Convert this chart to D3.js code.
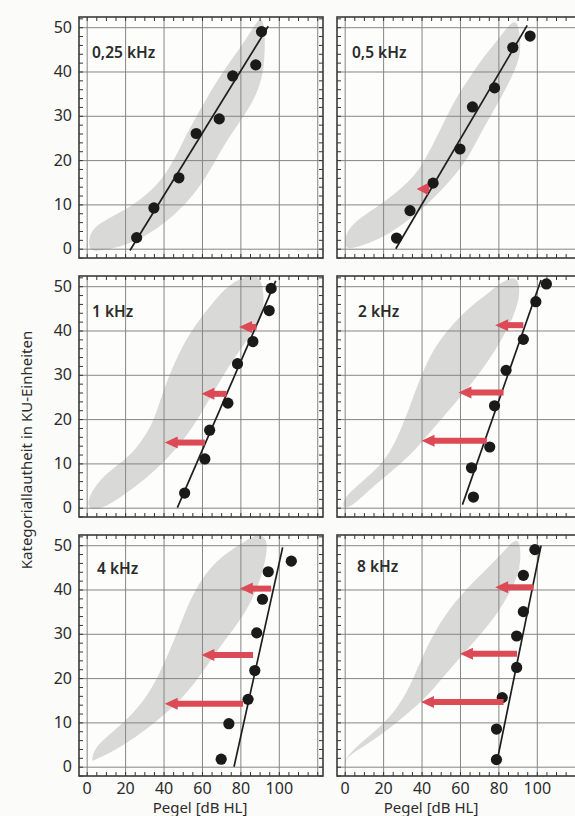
<!DOCTYPE html>
<html>
<head>
<meta charset="utf-8">
<script src="https://cdn.jsdelivr.net/npm/d3@7"></script>
<style>
  body { margin: 0; background: #fbfbfa; }
  text { font-family: "Noto Sans", "Open Sans", sans-serif; fill: #2b2b2b; }
</style>
</head>
<body>
<svg id="chart" width="575" height="816"></svg>
<script>
// panel titles (frequency)
const freqLabels = ["0,25 kHz", "0,5 kHz", "1 kHz", "2 kHz", "4 kHz", "8 kHz"];

// measured points: level [dB HL] and loudness [KU]
const level025 = [26, 35, 48, 57, 69, 76, 88, 91];
const ku025    = [2.5, 9.2, 16, 26, 29.3, 39, 41.5, 49];
const level05  = [27, 34, 46, 60, 66.5, 78, 87.5, 96.5];
const ku05     = [2.4, 8.6, 14.8, 22.5, 32, 36.3, 45.4, 48];
const level1k  = [51, 61.5, 64, 73.5, 78.5, 86.5, 95, 96];
const ku1k     = [3.3, 11, 17.5, 23.6, 32.5, 37.5, 44.5, 49.5];
const level2k  = [67, 66, 75.5, 78, 84, 93, 99.5, 105];
const ku2k     = [2.4, 9, 13.7, 23, 31, 38, 46.5, 50.5];
const level4k  = [70, 74, 84, 87.5, 88.5, 91.5, 94.5, 106.5];
const ku4k     = [1.7, 9.7, 15.2, 21.7, 30.2, 37.8, 44, 46.4];
const level8k  = [79, 79, 82, 89.5, 89.5, 93, 93, 99];
const ku8k     = [1.6, 8.5, 15.6, 22.4, 29.5, 35, 43.2, 49];

// fitted lines: [start, end] level and KU
const fitLevel = [[22.5, 94.5], [26.6, 95], [47.2, 98.4], [61.3, 102.2], [76.7, 102], [78.9, 102.2]];
const fitKu    = [[-0.4, 50.2], [0, 50.4], [0, 51.2], [0.7, 51.4], [0, 49.5], [0.4, 49.9]];

// red arrows: KU level, tail level, head level
const arrowKu   = [[], [13.5], [40.8, 25.7, 14.7], [41.2, 26, 15.1], [40.2, 25.2, 14.2], [40.5, 25.5, 14.6]];
const arrowFrom = [[], [44], [88.4, 72.8, 61.5], [93, 82.7, 74], [96, 86.6, 81.4], [98.3, 89.7, 82.7]];
const arrowTo   = [[], [37.5], [79.3, 59.7, 40.6], [78.3, 59.2, 40], [79.7, 59.7, 40.6], [78.3, 60, 39.7]];

// normal hearing range (grey band) outlines, [level, KU]
const band025 = [[1,-0.5],[1,4.3],[13,7.2],[25.5,10.1],[37.5,14.6],[44.3,19.1],[49.5,23.6],[54.7,28.1],[62,33.6],[68.8,38.7],[77.6,43.9],[86,49.3],[91,53],
                 [93,49],[92.5,41],[89.6,35.8],[82.8,30.4],[74,25.2],[67.2,20],[60,14.6],[51.6,10.1],[42.7,6.5],[30.7,2.7],[16.7,0.2],[5,-0.5]];
const band05  = [[0,0],[0,3.2],[6,6.5],[20,10.3],[30.5,14],[37.4,17],[42.7,20.8],[48,25.3],[53,29.8],[58.3,34.3],[65.3,38.8],[72.2,43.3],[81,47.8],[89.7,53],
                 [91.6,47],[91.4,42.6],[82.7,35],[75.7,29.8],[68.8,24.5],[61.8,18.5],[44.4,10.3],[27,4.3],[14.8,1.5],[4,0]];
const band1k  = [[0.6,-0.5],[0.6,2.2],[6.8,6.4],[15.5,9.4],[24,12.4],[29.3,15.5],[34.5,19.2],[38,23.8],[41.5,28.3],[46.7,33.6],[52,38.2],[59,42.7],[67.5,47.3],[76,51.1],[90,53.5],
                 [92.5,48],[91.8,42.7],[76.2,33.6],[65.8,26],[52,15.5],[32.8,7.1],[20.7,3.3],[8.5,-0.3]];
const band2k  = [[-1,-0.3],[-1,1.8],[6,4.8],[16.6,8.6],[23.5,12.4],[28.7,17],[34,23],[39.2,29.1],[44.4,34.4],[51.3,38.9],[61.8,44.2],[75.7,48.8],[89.7,53.5],
                 [92,48],[86.2,41.2],[75.7,33.6],[65.3,27.6],[54.8,22.3],[44.4,17],[33.9,11.7],[23.5,7.9],[13,4.1],[4.3,0.5]];
const band4k  = [[2.5,1],[3.8,4.2],[11.6,7.2],[22,11],[30.9,15.5],[37.6,20.7],[42.9,25.9],[48.1,31.3],[53.3,37.2],[60,42.6],[68.9,47.1],[79.3,50],[89.7,53],
                 [94,51.2],[93.8,47.8],[89.7,41],[82.9,34.9],[74,29.7],[65.2,24.5],[56.8,19.1],[46.4,13.9],[34,9.4],[22,5.6],[10,2.6],[3.8,1.5]];
const band8k  = [[0,0],[0,1.6],[6,4.5],[16.6,8.3],[25.2,12],[32.2,16.5],[37.4,21.7],[42.7,26.9],[48,31.3],[54.8,35.8],[63.5,40.2],[74,44.7],[82.7,48.4],[91.4,53],
                 [92,44.7],[86.2,39.5],[79.2,34.3],[70.5,29.8],[60,24.6],[49.6,19.4],[41,15],[30.5,11.2],[20,7.5],[9.6,4.5],[1,2.3]];

// tick values
const xGrid = [0, 20, 40, 60, 80, 100, 120];
const yGrid = [0, 10, 20, 30, 40, 50];
const xTickLabels = [0, 20, 40, 60, 80, 100];

const levels = [level025, level05, level1k, level2k, level4k, level8k];
const kus = [ku025, ku05, ku1k, ku2k, ku4k, ku8k];
const bands = [band025, band05, band1k, band2k, band4k, band8k];

const pw = 244, ph = 241;
const colX = [79, 337];
const rowY = [17, 276, 535];
const labelPos = [[92, 53], [352, 53], [92, 312], [358, 312], [97, 569], [357, 567]];
const red = "#dc4a56";

const svg = d3.select("#chart");

const x = d3.scaleLinear().domain([-4, 123]).range([0, pw]);
const y = d3.scaleLinear().domain([-2.1, 52.3]).range([ph, 0]);

svg.append("clipPath").attr("id", "clip")
  .append("rect").attr("width", pw).attr("height", ph);

freqLabels.forEach((lab, i) => {
  const col = i % 2, row = Math.floor(i / 2);
  const g = svg.append("g")
    .attr("transform", "translate(" + colX[col] + "," + rowY[row] + ")");

  g.append("rect").attr("width", pw).attr("height", ph).attr("fill", "#fdfdfc");

  const inner = g.append("g").attr("clip-path", "url(#clip)");

  // grey band
  inner.append("path")
    .datum(bands[i])
    .attr("d", d3.line().x(d => x(d[0])).y(d => y(d[1])).curve(d3.curveBasisClosed))
    .attr("fill", "#d9d9d8");

  // grid
  inner.append("g")
    .attr("transform", "translate(0," + ph + ")")
    .call(d3.axisBottom(x).tickValues(xGrid).tickSize(-ph).tickFormat(""))
    .call(a => a.select(".domain").remove())
    .selectAll("line").attr("stroke", "#858585").attr("stroke-width", 1);
  inner.append("g")
    .call(d3.axisLeft(y).tickValues(yGrid).tickSize(-pw).tickFormat(""))
    .call(a => a.select(".domain").remove())
    .selectAll("line").attr("stroke", "#858585").attr("stroke-width", 1);

  // minor ticks on all four sides, pointing inward
  const xt = d3.range(-0, 125, 5), yt = d3.range(-2, 53, 2);
  [[d3.axisBottom(x).tickValues(xt).tickSize(-4), "translate(0," + ph + ")"],
   [d3.axisTop(x).tickValues(xt).tickSize(-4), null],
   [d3.axisLeft(y).tickValues(yt).tickSize(-4), null],
   [d3.axisRight(y).tickValues(yt).tickSize(-4), "translate(" + pw + ",0)"]].forEach(([ax, tr]) => {
    const t = g.append("g").call(ax.tickFormat(""));
    if (tr) t.attr("transform", tr);
    t.select(".domain").remove();
    t.selectAll("line").attr("stroke", "#333").attr("stroke-width", 1);
  });

  // fitted line
  inner.append("line")
    .attr("x1", x(fitLevel[i][0])).attr("y1", y(fitKu[i][0]))
    .attr("x2", x(fitLevel[i][1])).attr("y2", y(fitKu[i][1]))
    .attr("stroke", "#1e1e1e").attr("stroke-width", 1.7);

  // points
  inner.selectAll("circle")
    .data(levels[i].map((l, k) => [l, kus[i][k]]))
    .enter().append("circle")
    .attr("cx", d => x(d[0])).attr("cy", d => y(d[1]))
    .attr("r", 5.6).attr("fill", "#1a1a1a");

  // arrows
  arrowKu[i].forEach((ku, k) => {
    const x0 = x(arrowFrom[i][k]), x1 = x(arrowTo[i][k]), yy = y(ku);
    const hl = Math.min(13, (x0 - x1) * 0.9);
    inner.append("line")
      .attr("x1", x0).attr("x2", x1 + hl - 1).attr("y1", yy).attr("y2", yy)
      .attr("stroke", red).attr("stroke-width", 6);
    inner.append("path")
      .attr("d", "M" + x1 + "," + yy + "L" + (x1 + hl) + "," + (yy - 6) + "L" + (x1 + hl) + "," + (yy + 6) + "Z")
      .attr("fill", red);
  });

  // frame
  g.append("rect").attr("width", pw).attr("height", ph)
    .attr("fill", "none").attr("stroke", "#3a3a3a").attr("stroke-width", 1.6);

  // panel title
  svg.append("text")
    .attr("x", labelPos[i][0]).attr("y", labelPos[i][1]).attr("dy", "0.35em")
    .attr("font-size", 15.5).attr("font-weight", 600)
    .text(lab);

  if (col === 0) {
    g.append("g")
      .call(d3.axisLeft(y).tickValues(yGrid).tickSize(0).tickPadding(7))
      .call(a => a.select(".domain").remove())
      .selectAll("text").attr("font-size", 16).style("font-family", "'Noto Sans', sans-serif");
  }
  if (row === 2) {
    g.append("g")
      .attr("transform", "translate(0," + ph + ")")
      .call(d3.axisBottom(x).tickValues(xTickLabels).tickSize(0).tickPadding(7))
      .call(a => a.select(".domain").remove())
      .selectAll("text").attr("font-size", 16).style("font-family", "'Noto Sans', sans-serif");
  }
});

// axis titles
svg.append("text").attr("x", 200).attr("y", 808).attr("dy", "0.35em")
  .attr("text-anchor", "middle").attr("font-size", 15).text("Pegel [dB HL]");
svg.append("text").attr("x", 431).attr("y", 808).attr("dy", "0.35em")
  .attr("text-anchor", "middle").attr("font-size", 15).text("Pegel [dB HL]");
svg.append("text")
  .attr("transform", "translate(27,450) rotate(-90)").attr("dy", "0.35em")
  .attr("text-anchor", "middle").attr("font-size", 15)
  .text("Kategoriallautheit in KU-Einheiten");
</script>
</body>
</html>
